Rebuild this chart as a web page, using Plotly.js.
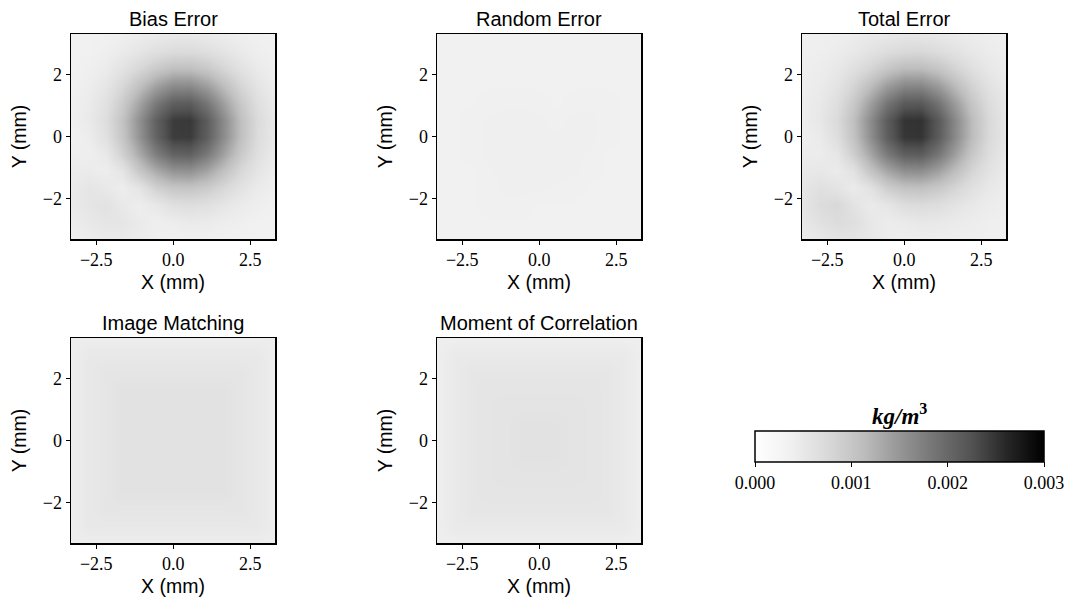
<!DOCTYPE html>
<html><head><meta charset="utf-8">
<script src="https://cdn.plot.ly/plotly-3.0.1.min.js"></script>
<style>html,body{margin:0;padding:0;background:#fff}</style>
</head><body><div id="chart" style="width:1070px;height:603px"></div>
<script>
// grid coordinates (mm)
const xCoords = [-3.3,-2.75,-2.2,-1.65,-1.1,-0.55,0,0.55,1.1,1.65,2.2,2.75,3.3];
const yCoords = [-3.3,-2.75,-2.2,-1.65,-1.1,-0.55,0,0.55,1.1,1.65,2.2,2.75,3.3];
const panelTitles = ['Bias Error','Random Error','Total Error','Image Matching','Moment of Correlation'];
const xTicks = [-2.5, 0, 2.5];
const yTicks = [-2, 0, 2];
const colorbarTicks = [0, 0.001, 0.002, 0.003];
const SCALE = 1e-3; // grid values below are in units of 1e-3 kg/m^3

// rows: bottom (y=-3.3) to top (y=3.3)
const biasError = [
 [0.40,0.44,0.48,0.48,0.45,0.40,0.37,0.39,0.38,0.37,0.36,0.35,0.34],
 [0.44,0.50,0.56,0.55,0.46,0.40,0.43,0.47,0.46,0.42,0.39,0.36,0.35],
 [0.48,0.56,0.60,0.50,0.42,0.50,0.64,0.67,0.63,0.54,0.46,0.40,0.36],
 [0.48,0.55,0.50,0.42,0.56,0.86,1.00,1.02,0.93,0.76,0.59,0.46,0.39],
 [0.45,0.46,0.42,0.56,0.98,1.30,1.52,1.54,1.36,1.06,0.76,0.55,0.43],
 [0.40,0.40,0.50,0.86,1.30,1.76,2.06,2.09,1.81,1.38,0.95,0.64,0.46],
 [0.37,0.43,0.64,1.00,1.52,2.06,2.43,2.44,2.11,1.59,1.08,0.70,0.49],
 [0.39,0.48,0.68,1.04,1.55,2.09,2.44,2.46,2.13,1.60,1.08,0.71,0.49],
 [0.38,0.46,0.63,0.93,1.36,1.81,2.11,2.13,1.84,1.40,0.97,0.65,0.47],
 [0.37,0.42,0.54,0.76,1.06,1.38,1.59,1.60,1.40,1.09,0.78,0.56,0.43],
 [0.36,0.39,0.46,0.59,0.76,0.95,1.08,1.08,0.97,0.78,0.60,0.47,0.39],
 [0.35,0.36,0.40,0.46,0.55,0.64,0.70,0.71,0.65,0.56,0.47,0.40,0.37],
 [0.34,0.35,0.36,0.39,0.43,0.46,0.49,0.49,0.47,0.43,0.39,0.37,0.35]
];
const randomError = [
 [0.36,0.36,0.36,0.36,0.36,0.36,0.36,0.36,0.36,0.36,0.36,0.36,0.36],
 [0.36,0.36,0.36,0.36,0.36,0.36,0.36,0.36,0.36,0.36,0.36,0.36,0.36],
 [0.36,0.36,0.36,0.37,0.38,0.37,0.36,0.36,0.36,0.36,0.36,0.36,0.36],
 [0.36,0.36,0.36,0.37,0.39,0.39,0.39,0.38,0.37,0.36,0.36,0.36,0.36],
 [0.36,0.36,0.36,0.38,0.39,0.39,0.39,0.39,0.39,0.37,0.36,0.36,0.36],
 [0.36,0.36,0.37,0.39,0.39,0.39,0.39,0.39,0.39,0.38,0.36,0.36,0.36],
 [0.36,0.36,0.37,0.39,0.39,0.39,0.39,0.39,0.39,0.39,0.37,0.36,0.36],
 [0.36,0.36,0.37,0.39,0.39,0.39,0.39,0.37,0.39,0.39,0.37,0.36,0.36],
 [0.36,0.36,0.36,0.37,0.38,0.38,0.37,0.36,0.37,0.38,0.37,0.36,0.36],
 [0.36,0.36,0.36,0.36,0.36,0.36,0.36,0.36,0.36,0.36,0.36,0.36,0.36],
 [0.36,0.36,0.36,0.36,0.36,0.36,0.36,0.36,0.36,0.36,0.36,0.36,0.36],
 [0.36,0.36,0.36,0.36,0.36,0.36,0.36,0.36,0.36,0.36,0.36,0.36,0.36],
 [0.36,0.36,0.36,0.36,0.36,0.36,0.36,0.36,0.36,0.36,0.36,0.36,0.36]
];
const totalError = [
 [0.46,0.52,0.58,0.58,0.52,0.44,0.41,0.43,0.42,0.41,0.40,0.39,0.38],
 [0.52,0.62,0.70,0.66,0.52,0.44,0.47,0.51,0.50,0.46,0.43,0.40,0.39],
 [0.56,0.70,0.76,0.60,0.46,0.54,0.68,0.71,0.67,0.58,0.50,0.44,0.40],
 [0.55,0.64,0.58,0.46,0.60,0.90,1.04,1.06,0.97,0.80,0.63,0.50,0.43],
 [0.50,0.52,0.46,0.60,1.02,1.34,1.56,1.58,1.40,1.10,0.80,0.59,0.47],
 [0.44,0.44,0.54,0.90,1.34,1.80,2.11,2.14,1.85,1.42,0.99,0.68,0.50],
 [0.41,0.47,0.68,1.04,1.56,2.11,2.48,2.50,2.15,1.63,1.12,0.74,0.53],
 [0.43,0.52,0.72,1.08,1.59,2.14,2.50,2.52,2.17,1.64,1.12,0.75,0.53],
 [0.42,0.50,0.67,0.97,1.40,1.85,2.15,2.17,1.88,1.44,1.01,0.69,0.51],
 [0.41,0.46,0.58,0.80,1.10,1.42,1.63,1.64,1.44,1.13,0.82,0.60,0.47],
 [0.40,0.43,0.50,0.63,0.80,0.99,1.12,1.12,1.01,0.82,0.64,0.51,0.43],
 [0.39,0.40,0.44,0.50,0.59,0.68,0.74,0.75,0.69,0.60,0.51,0.44,0.41],
 [0.38,0.39,0.40,0.43,0.47,0.50,0.53,0.53,0.51,0.47,0.43,0.41,0.39]
];
const imageMatching = [
 [0.42,0.42,0.42,0.42,0.42,0.42,0.42,0.42,0.42,0.42,0.42,0.42,0.42],
 [0.42,0.50,0.50,0.50,0.50,0.50,0.50,0.50,0.50,0.50,0.50,0.50,0.42],
 [0.42,0.50,0.55,0.55,0.55,0.55,0.55,0.55,0.55,0.55,0.55,0.50,0.42],
 [0.42,0.50,0.55,0.60,0.60,0.60,0.60,0.60,0.60,0.60,0.55,0.50,0.42],
 [0.42,0.50,0.55,0.60,0.60,0.60,0.60,0.60,0.60,0.60,0.55,0.50,0.42],
 [0.42,0.50,0.55,0.60,0.60,0.61,0.61,0.61,0.60,0.60,0.55,0.50,0.42],
 [0.42,0.50,0.55,0.60,0.60,0.61,0.61,0.61,0.60,0.60,0.55,0.50,0.42],
 [0.42,0.50,0.55,0.60,0.60,0.61,0.61,0.61,0.60,0.60,0.55,0.50,0.42],
 [0.42,0.50,0.55,0.60,0.60,0.60,0.60,0.60,0.60,0.60,0.55,0.50,0.42],
 [0.42,0.50,0.55,0.60,0.60,0.60,0.60,0.60,0.60,0.60,0.55,0.50,0.42],
 [0.42,0.50,0.55,0.55,0.55,0.55,0.55,0.55,0.55,0.55,0.55,0.50,0.42],
 [0.42,0.50,0.50,0.50,0.50,0.50,0.50,0.50,0.50,0.50,0.50,0.50,0.42],
 [0.42,0.42,0.42,0.42,0.42,0.42,0.42,0.42,0.42,0.42,0.42,0.42,0.42]
];
const momentCorrelation = [
 [0.40,0.40,0.40,0.40,0.40,0.40,0.40,0.40,0.40,0.40,0.40,0.40,0.40],
 [0.40,0.48,0.48,0.48,0.48,0.48,0.48,0.48,0.48,0.48,0.48,0.48,0.40],
 [0.40,0.48,0.54,0.54,0.54,0.54,0.54,0.54,0.54,0.54,0.54,0.48,0.40],
 [0.40,0.48,0.54,0.56,0.56,0.56,0.56,0.56,0.56,0.56,0.54,0.48,0.40],
 [0.40,0.48,0.54,0.56,0.57,0.57,0.57,0.57,0.57,0.56,0.54,0.48,0.40],
 [0.40,0.48,0.54,0.56,0.57,0.60,0.60,0.60,0.57,0.56,0.54,0.48,0.40],
 [0.40,0.48,0.54,0.56,0.57,0.60,0.61,0.60,0.57,0.56,0.54,0.48,0.40],
 [0.40,0.48,0.54,0.56,0.57,0.60,0.60,0.60,0.57,0.56,0.54,0.48,0.40],
 [0.40,0.48,0.54,0.56,0.57,0.57,0.57,0.57,0.57,0.56,0.54,0.48,0.40],
 [0.40,0.48,0.54,0.56,0.56,0.56,0.56,0.56,0.56,0.56,0.54,0.48,0.40],
 [0.40,0.48,0.54,0.54,0.54,0.54,0.54,0.54,0.54,0.54,0.54,0.48,0.40],
 [0.40,0.48,0.48,0.48,0.48,0.48,0.48,0.48,0.48,0.48,0.48,0.48,0.40],
 [0.40,0.40,0.40,0.40,0.40,0.40,0.40,0.40,0.40,0.40,0.40,0.40,0.40]
];
const panelData = [biasError, randomError, totalError, imageMatching, momentCorrelation];

const greys = [[0,'#ffffff'],[0.125,'#f0f0f0'],[0.25,'#d9d9d9'],[0.375,'#bdbdbd'],[0.5,'#969696'],[0.625,'#737373'],[0.75,'#525252'],[0.875,'#252525'],[1,'#000000']];

const W = 1070, H = 603;
const colPx = [[71,275],[437,641],[802,1006]];
const rowPx = [[34,239],[338,543]];
const cells = [[0,0],[0,1],[0,2],[1,0],[1,1]]; // [row, col]

const sans = 'Liberation Sans, Arial, sans-serif';
const serif = 'Liberation Serif, Times New Roman, serif';

const traces = [];
const layout = {
  width: W, height: H,
  margin: {l:0, r:0, t:0, b:0},
  paper_bgcolor: '#fff', plot_bgcolor: '#fff',
  showlegend: false,
  coloraxis: {
    colorscale: greys, cmin: 0, cmax: 0.003,
    colorbar: {
      orientation: 'h', x: (755+1044)/2/W, xanchor: 'center',
      y: 1-431/H, yanchor: 'top', ypad: 0, xpad: 0,
      len: (1044-755)/W, lenmode: 'fraction',
      thickness: 31, thicknessmode: 'pixels',
      outlinewidth: 1.5, outlinecolor: '#000',
      ticks: 'outside', ticklen: 5, tickwidth: 1, tickcolor: '#000',
      tickvals: colorbarTicks, tickformat: '.3f',
      tickfont: {family: serif, size: 18, color: '#000'}
    }
  },
  annotations: []
};

panelData.forEach((grid, k) => {
  const [r, c] = cells[k];
  const n = k === 0 ? '' : String(k+1);
  traces.push({
    type: 'heatmap', x: xCoords, y: yCoords,
    z: grid.map(row => row.map(v => v*SCALE)),
    coloraxis: 'coloraxis', zsmooth: 'best',
    xaxis: 'x'+n, yaxis: 'y'+n, hoverinfo: 'x+y+z'
  });
  const common = {
    showgrid: false, zeroline: false, showline: true, mirror: true,
    linewidth: 1.5, linecolor: '#000', ticks: 'outside', ticklen: 4,
    tickwidth: 1, tickcolor: '#000',
    tickfont: {family: serif, size: 18, color: '#000'}
  };
  layout['xaxis'+n] = Object.assign({}, common, {
    domain: [colPx[c][0]/W, colPx[c][1]/W], anchor: 'y'+n,
    range: [-3.32, 3.30], tickvals: xTicks, tickformat: '.1f',
    title: {text: 'X (mm)', font: {family: sans, size: 19.5, color: '#000'}, standoff: 6}
  });
  layout['yaxis'+n] = Object.assign({}, common, {
    domain: [1-rowPx[r][1]/H, 1-rowPx[r][0]/H], anchor: 'x'+n,
    range: [-3.30, 3.31], tickvals: yTicks, tickformat: 'd',
    title: {text: 'Y (mm)', font: {family: sans, size: 19.5, color: '#000'}, standoff: 11}
  });
  layout.annotations.push({
    text: panelTitles[k], xref: 'paper', yref: 'paper',
    x: (colPx[c][0]+colPx[c][1])/2/W, y: 1-(rowPx[r][0]-15)/H,
    xanchor: 'center', yanchor: 'middle', showarrow: false,
    font: {family: sans, size: 20, color: '#000'}
  });
});

layout.annotations.push({
  text: '<b><i>kg/m</i><sup>3</sup></b>', xref: 'paper', yref: 'paper',
  x: (755+1044)/2/W, y: 1-414/H, xanchor: 'center', yanchor: 'middle',
  showarrow: false, font: {family: serif, size: 23, color: '#000'}
});

Plotly.newPlot('chart', traces, layout, {displayModeBar: false, staticPlot: true});
</script></body></html>
